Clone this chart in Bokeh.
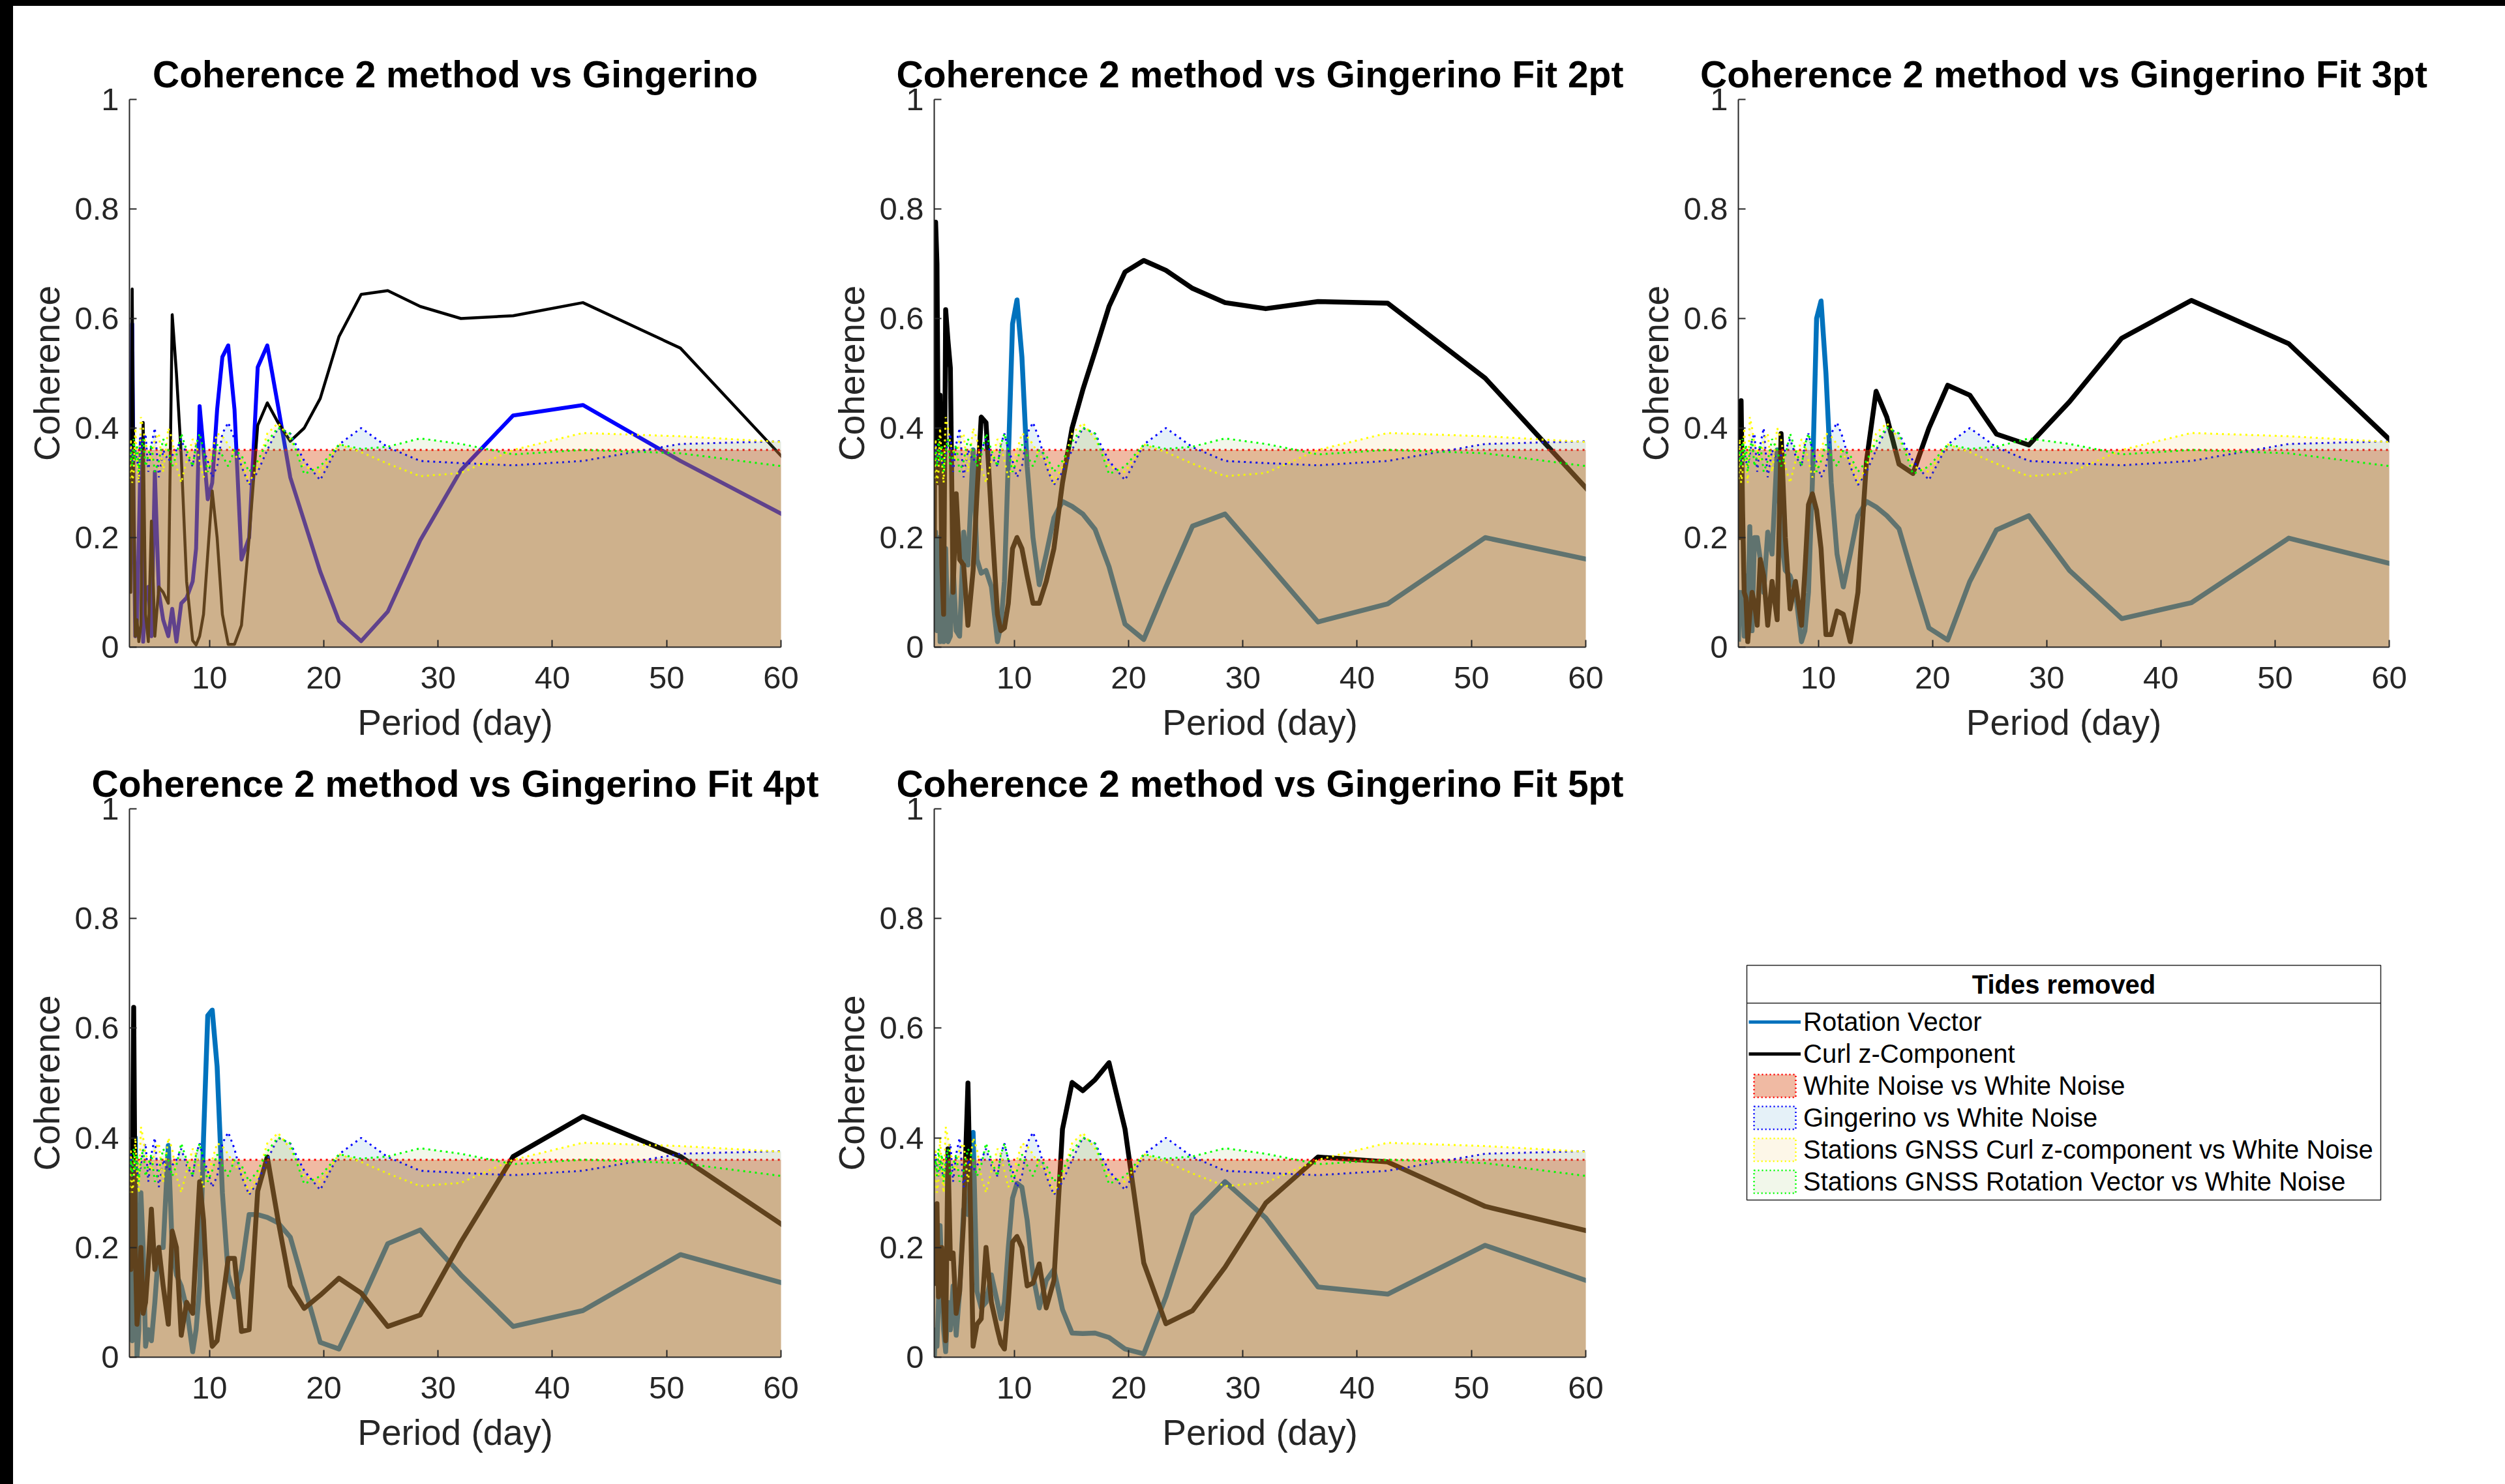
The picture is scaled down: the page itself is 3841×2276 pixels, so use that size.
from bokeh.plotting import figure
from bokeh.models import Range1d, Legend, LegendItem, ColumnDataSource, Label, Spacer
from bokeh.layouts import row, column
from bokeh.embed import file_html
from bokeh.resources import INLINE

# ---------------- data ----------------
PERIOD = [64.0, 51.2, 42.67, 36.57, 32.0, 28.44, 25.6, 23.27, 21.33, 19.69,
          18.29, 17.07, 16.0, 15.06, 14.22, 13.47, 12.8, 12.19, 11.64, 11.13,
          10.67, 10.24, 9.85, 9.48, 9.14, 8.83, 8.53, 8.0, 7.53, 7.11,
          6.74, 6.4, 5.95, 5.57, 5.22, 4.92, 4.65, 4.41, 4.2, 4.0,
          3.82, 3.66, 3.51, 3.37, 3.24, 3.12, 3.01]

ROT_GINGERINO = [0.20, 0.34, 0.442, 0.423, 0.323, 0.195, 0.065, 0.011, 0.048, 0.138,
                 0.23, 0.31, 0.44, 0.551, 0.511, 0.20, 0.16, 0.434, 0.551, 0.53,
                 0.434, 0.30, 0.27, 0.36, 0.44, 0.18, 0.12, 0.09, 0.08, 0.01,
                 0.07, 0.02, 0.05, 0.10, 0.32, 0.02, 0.11, 0.10, 0.01, 0.38,
                 0.20, 0.05, 0.02, 0.25, 0.59, 0.20, 0.27]
CURL_GINGERINO = [0.26, 0.546, 0.629, 0.605, 0.60, 0.622, 0.651, 0.644, 0.567, 0.454,
                  0.40, 0.376, 0.41, 0.446, 0.405, 0.20, 0.04, 0.005, 0.005, 0.06,
                  0.20, 0.285, 0.17, 0.06, 0.02, 0.004, 0.012, 0.12, 0.35, 0.50,
                  0.607, 0.08, 0.10, 0.11, 0.02, 0.23, 0.01, 0.06, 0.41, 0.04,
                  0.01, 0.05, 0.02, 0.30, 0.654, 0.10, 0.17]

ROT_FIT2 = [0.143, 0.20, 0.079, 0.046, 0.157, 0.243, 0.221, 0.11, 0.014, 0.042,
            0.147, 0.215, 0.243, 0.257, 0.266, 0.236, 0.17, 0.114, 0.20, 0.33,
            0.53, 0.634, 0.59, 0.34, 0.12, 0.04, 0.01, 0.11, 0.14, 0.135,
            0.16, 0.36, 0.15, 0.21, 0.02, 0.03, 0.15, 0.02, 0.01, 0.18,
            0.01, 0.05, 0.01, 0.20, 0.03, 0.21, 0.15]
CURL_FIT2 = [0.20, 0.491, 0.628, 0.631, 0.618, 0.629, 0.655, 0.688, 0.706, 0.685,
             0.622, 0.54, 0.47, 0.40, 0.30, 0.18, 0.12, 0.08, 0.08, 0.13,
             0.18, 0.20, 0.18, 0.08, 0.035, 0.03, 0.06, 0.24, 0.41, 0.42,
             0.28, 0.14, 0.04, 0.15, 0.16, 0.28, 0.10, 0.51, 0.56, 0.616,
             0.06, 0.15, 0.46, 0.30, 0.70, 0.776, 0.20]

ROT_FIT3 = [0.132, 0.199, 0.081, 0.052, 0.14, 0.24, 0.214, 0.12, 0.013, 0.035,
            0.13, 0.216, 0.24, 0.256, 0.266, 0.24, 0.17, 0.11, 0.17, 0.30,
            0.50, 0.632, 0.60, 0.30, 0.10, 0.03, 0.01, 0.10, 0.13, 0.14,
            0.20, 0.36, 0.17, 0.21, 0.10, 0.16, 0.20, 0.20, 0.03, 0.22,
            0.05, 0.13, 0.02, 0.10, 0.05, 0.10, 0.01]
CURL_FIT3 = [0.30, 0.554, 0.633, 0.564, 0.448, 0.369, 0.389, 0.46, 0.478, 0.40,
             0.317, 0.334, 0.42, 0.467, 0.34, 0.10, 0.01, 0.06, 0.066, 0.023,
             0.023, 0.18, 0.25, 0.28, 0.26, 0.14, 0.04, 0.12, 0.07, 0.20,
             0.39, 0.05, 0.12, 0.04, 0.13, 0.16, 0.04, 0.08, 0.10, 0.06,
             0.01, 0.09, 0.10, 0.25, 0.45, 0.20, 0.31]

ROT_FIT4 = [0.113, 0.187, 0.085, 0.056, 0.15, 0.232, 0.207, 0.10, 0.015, 0.027,
            0.13, 0.219, 0.245, 0.255, 0.26, 0.26, 0.16, 0.11, 0.15, 0.30,
            0.53, 0.633, 0.623, 0.40, 0.13, 0.05, 0.01, 0.09, 0.13, 0.15,
            0.20, 0.386, 0.20, 0.20, 0.10, 0.03, 0.05, 0.02, 0.20, 0.30,
            0.05, 0.0, 0.40, 0.20, 0.03, 0.20, 0.36]
CURL_FIT4 = [0.187, 0.366, 0.439, 0.366, 0.21, 0.077, 0.056, 0.117, 0.144, 0.113,
             0.089, 0.13, 0.25, 0.365, 0.303, 0.05, 0.047, 0.18, 0.18, 0.10,
             0.03, 0.02, 0.10, 0.25, 0.32, 0.20, 0.08, 0.10, 0.04, 0.20,
             0.23, 0.06, 0.13, 0.20, 0.16, 0.27, 0.17, 0.10, 0.08, 0.20,
             0.10, 0.06, 0.20, 0.638, 0.30, 0.16, 0.29]

ROT_FIT5 = [0.111, 0.204, 0.115, 0.128, 0.254, 0.32, 0.26, 0.11, 0.006, 0.015,
            0.036, 0.044, 0.043, 0.044, 0.087, 0.16, 0.14, 0.09, 0.15, 0.25,
            0.31, 0.317, 0.29, 0.20, 0.10, 0.07, 0.10, 0.15, 0.10, 0.09,
            0.12, 0.41, 0.26, 0.27, 0.12, 0.04, 0.13, 0.05, 0.10, 0.01,
            0.05, 0.15, 0.24, 0.10, 0.02, 0.05, 0.0]
CURL_FIT5 = [0.211, 0.275, 0.356, 0.365, 0.281, 0.164, 0.085, 0.061, 0.172, 0.416,
             0.537, 0.506, 0.486, 0.501, 0.416, 0.14, 0.09, 0.17, 0.135, 0.13,
             0.20, 0.22, 0.21, 0.10, 0.015, 0.025, 0.05, 0.10, 0.20, 0.07,
             0.06, 0.02, 0.50, 0.25, 0.12, 0.08, 0.19, 0.18, 0.38, 0.03,
             0.10, 0.20, 0.15, 0.11, 0.28, 0.20, 0.13]

# noise reference curves (identical in every panel)
WN_VS_WN_LEVEL = 0.36
GINGERINO_VS_WN = [0.378, 0.371, 0.34, 0.332, 0.336, 0.34, 0.365, 0.40, 0.37, 0.305,
                   0.34, 0.39, 0.40, 0.36, 0.32, 0.296, 0.33, 0.38, 0.41, 0.39,
                   0.33, 0.31, 0.34, 0.36, 0.39, 0.37, 0.33, 0.35, 0.38, 0.36,
                   0.35, 0.34, 0.36, 0.31, 0.40, 0.37, 0.32, 0.39, 0.38, 0.35,
                   0.33, 0.34, 0.36, 0.33, 0.35, 0.37, 0.34]
GNSS_CURL_VS_WN = [0.37, 0.385, 0.391, 0.36, 0.318, 0.312, 0.335, 0.356, 0.37, 0.32,
                   0.33, 0.38, 0.409, 0.39, 0.33, 0.30, 0.34, 0.35, 0.37, 0.385,
                   0.39, 0.36, 0.33, 0.31, 0.34, 0.37, 0.38, 0.34, 0.30, 0.33,
                   0.38, 0.40, 0.32, 0.39, 0.38, 0.34, 0.36, 0.37, 0.40, 0.42,
                   0.30, 0.34, 0.40, 0.32, 0.30, 0.38, 0.30]
GNSS_ROT_VS_WN = [0.32, 0.354, 0.36, 0.352, 0.371, 0.381, 0.366, 0.362, 0.37, 0.33,
                  0.316, 0.39, 0.401, 0.375, 0.34, 0.32, 0.35, 0.36, 0.33, 0.35,
                  0.37, 0.34, 0.32, 0.36, 0.39, 0.37, 0.33, 0.36, 0.39, 0.35,
                  0.33, 0.36, 0.38, 0.34, 0.32, 0.37, 0.35, 0.33, 0.38, 0.36,
                  0.32, 0.37, 0.34, 0.38, 0.33, 0.36, 0.34]

TITLES = ["Coherence 2 method vs Gingerino",
          "Coherence 2 method vs Gingerino Fit 2pt",
          "Coherence 2 method vs Gingerino Fit 3pt",
          "Coherence 2 method vs Gingerino Fit 4pt",
          "Coherence 2 method vs Gingerino Fit 5pt"]
X_TICKS = [10, 20, 30, 40, 50, 60]
Y_TICKS = [0, 0.2, 0.4, 0.6, 0.8, 1]
Y_TICK_LABELS = ["0", "0.2", "0.4", "0.6", "0.8", "1"]
X_LABEL = "Period (day)"
Y_LABEL = "Coherence"
LEGEND_TITLE = "Tides removed"
LEGEND_LABELS = ["Rotation Vector", "Curl z-Component", "White Noise vs White Noise",
                 "Gingerino vs White Noise", "Stations GNSS Curl z-component vs White Noise",
                 "Stations GNSS Rotation Vector vs White Noise"]

# ---------------- styles ----------------
FONT = "Liberation Sans"
AX = "#262626"
MBLUE = "#0072BD"
NOISE_STYLE = [  # column, face colour, alpha, edge colour
    ("wn", (217, 83, 25), 0.4, "#FF0000"),
    ("ging", (0, 114, 189), 0.1, "#0000FF"),
    ("gcurl", (237, 177, 32), 0.1, "#FFFF00"),
    ("grot", (119, 172, 48), 0.1, "#00FF00"),
]
DOT = "3 6"


def make_panel(title, rot, curl, rot_color, rot_w, curl_w, w, h, bl, br, bt, bb):
    p = figure(width=w, height=h, x_range=Range1d(3, 60), y_range=Range1d(0, 1),
               toolbar_location=None, output_backend="svg", title=title,
               min_border_left=bl, min_border_right=br, min_border_top=bt,
               min_border_bottom=bb, outline_line_color=None,
               background_fill_color="white", border_fill_color="white")
    n = len(PERIOD)
    src = ColumnDataSource(dict(x=PERIOD, rot=rot, curl=curl,
                                wn=[WN_VS_WN_LEVEL] * n, zero=[0.0] * n,
                                ging=GINGERINO_VS_WN, gcurl=GNSS_CURL_VS_WN,
                                grot=GNSS_ROT_VS_WN))
    p.line("x", "rot", source=src, line_color=rot_color, line_width=rot_w, line_join="round")
    p.line("x", "curl", source=src, line_color="black", line_width=curl_w, line_join="round")
    for col, face, alpha, edge in NOISE_STYLE:
        p.varea(x="x", y1="zero", y2=col, source=src, fill_color=face, fill_alpha=alpha)
        p.line("x", col, source=src, line_color=edge, line_width=3, line_dash=DOT)

    p.grid.visible = False
    p.title.text_font = FONT
    p.title.text_font_size = "57px"
    p.title.text_font_style = "bold"
    p.title.text_color = "black"
    p.title.align = "center"
    p.title.standoff = 13

    for ax in (p.xaxis[0], p.yaxis[0]):
        ax.axis_line_color = AX
        ax.axis_line_width = 2
        ax.major_tick_line_color = AX
        ax.major_tick_line_width = 2
        ax.major_tick_in = 11
        ax.major_tick_out = 0
        ax.minor_tick_line_color = None
        ax.major_label_text_font = FONT
        ax.major_label_text_font_size = "49px"
        ax.major_label_text_color = AX
        ax.axis_label_text_font = FONT
        ax.axis_label_text_font_size = "55px"
        ax.axis_label_text_font_style = "normal"
        ax.axis_label_text_color = AX
    p.xaxis.ticker = X_TICKS
    p.yaxis.ticker = Y_TICKS
    p.yaxis.major_label_overrides = dict(zip(Y_TICKS, Y_TICK_LABELS))
    p.xaxis.major_label_standoff = 30
    p.yaxis.major_label_standoff = 16
    p.xaxis.axis_label_standoff = 18
    p.yaxis.axis_label_standoff = 8
    p.xaxis.axis_label = X_LABEL
    p.yaxis.axis_label = Y_LABEL
    return p


# column widths / borders (left, right) and row heights / borders (top, bottom)
COLS = [(1236, 178, 59), (1234, 176, 59), (1351, 175, 178)]
ROWS = [(1141, 143, 158), (1126, 90, 195)]
SERIES = [(ROT_GINGERINO, CURL_GINGERINO, "#0000FF", 6, 4.5),
          (ROT_FIT2, CURL_FIT2, MBLUE, 7.5, 7.5),
          (ROT_FIT3, CURL_FIT3, MBLUE, 7.5, 7.5),
          (ROT_FIT4, CURL_FIT4, MBLUE, 7.5, 7.5),
          (ROT_FIT5, CURL_FIT5, MBLUE, 7.5, 7.5)]
SLOTS = [(0, 0), (0, 1), (0, 2), (1, 0), (1, 1)]

panels = []
for title, (rot, curl, rc, rw, cw), (ri, ci) in zip(TITLES, SERIES, SLOTS):
    w, bl, br = COLS[ci]
    h, bt, bb = ROWS[ri]
    panels.append(make_panel(title, rot, curl, rc, rw, cw, w, h, bl, br, bt, bb))

# ---------------- legend panel ----------------
# the frame is aligned with its row neighbours, so data units = canvas pixels
LW, LH = COLS[2][0], ROWS[1][0]
LT, LB = ROWS[1][1], ROWS[1][0] - ROWS[1][2]
pl = figure(width=LW, height=LH, x_range=Range1d(0, LW), y_range=Range1d(LB, LT),
            toolbar_location=None, output_backend="svg", min_border_left=0,
            min_border_right=0, min_border_top=LT, min_border_bottom=LH - LB,
            x_axis_type=None, y_axis_type=None, outline_line_color=None, title=None)
pl.grid.visible = False
pl.quad(left=[188], right=[1160], top=[330], bottom=[690], fill_color="white",
        line_color=AX, line_width=1.5)
pl.segment(x0=[188], y0=[388], x1=[1160], y1=[388], line_color=AX, line_width=1.5)
pl.add_layout(Label(x=674, y=359, text=LEGEND_TITLE, text_align="center",
                    text_baseline="middle", text_font=FONT, text_font_size="40px",
                    text_font_style="bold", text_color="black"))

# legend proxies placed outside the visible range
r_rot = pl.line(x=[-200, -100], y=[-200, -200], line_color=MBLUE, line_width=5)
r_curl = pl.line(x=[-200, -100], y=[-200, -200], line_color="black", line_width=5)
patch_r = []
for col, face, alpha, edge in NOISE_STYLE:
    patch_r.append(pl.quad(left=[-200], right=[-100], top=[-200], bottom=[-150],
                           fill_color=face, fill_alpha=alpha,
                           line_color=edge, line_width=2.5, line_dash="2 4"))
rends = [r_rot, r_curl] + patch_r
legend = Legend(items=[LegendItem(label=lab, renderers=[r]) for lab, r in zip(LEGEND_LABELS, rends)],
                location=(191, LB - 685), orientation="vertical", margin=0, padding=0,
                spacing=3, glyph_width=80, glyph_height=44, label_height=46,
                label_standoff=4, label_text_font=FONT, label_text_font_size="40px",
                label_text_color="black", border_line_color=None,
                background_fill_alpha=0)
pl.add_layout(legend)

grid = column(row(panels[0], panels[1], panels[2]), row(panels[3], panels[4], pl))
top_bar = Spacer(width=3841, height=9, margin=0, styles={"background-color": "black"})
left_bar = Spacer(width=20, height=2267, margin=0, styles={"background-color": "black"})
layout = column(top_bar, row(left_bar, grid))

open("out.html", "w").write(file_html(layout, INLINE))
